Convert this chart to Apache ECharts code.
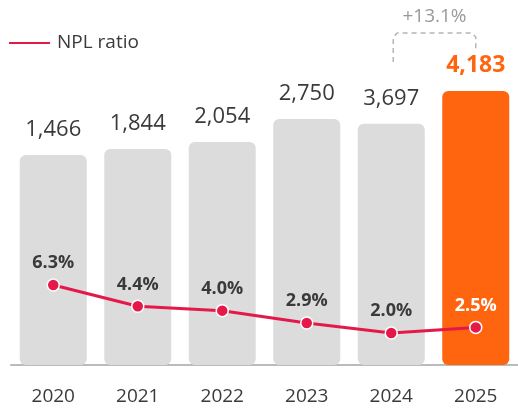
<!DOCTYPE html>
<html>
<head>
<meta charset="utf-8">
<script src="https://cdn.jsdelivr.net/npm/echarts@6/dist/echarts.min.js"></script>
<style>
  html, body { margin: 0; padding: 0; background: #fff; }
  #chart { width: 518px; height: 414px; }
</style>
</head>
<body>
<div id="chart"></div>
<script>
// data
var years = ['2020', '2021', '2022', '2023', '2024', '2025'];
var loanLabels = ['1,466', '1,844', '2,054', '2,750', '3,697', '4,183'];
// bars are not drawn to scale in the original, these are the visual heights (0-100)
var barLevels = [64.6, 66.5, 68.6, 75.7, 74.2, 84.3];
var nplRatio = [6.3, 4.4, 4.0, 2.9, 2.0, 2.5];
var growthText = '+13.1%';
var legendName = 'NPL ratio';

var FONT = 'Open Sans';
var grey = '#dcdcdc', orange = '#ff640f', red = '#e4194a', txt = '#3a3a3a';

var myChart = echarts.init(document.getElementById('chart'));

var barData = barLevels.map(function (v, i) {
    var last = i === barLevels.length - 1;
    return {
        value: v,
        itemStyle: { color: last ? orange : grey },
        label: last ? { color: orange, fontWeight: 'bold', fontSize: 23 } : {}
    };
});

var lineData = nplRatio.map(function (v, i) {
    var last = i === nplRatio.length - 1;
    return { value: v, label: last ? { color: '#fff' } : {} };
});

var option = {
    animation: false,
    textStyle: { fontFamily: FONT },
    grid: { left: 11, right: 0, top: 40, bottom: 49 },
    xAxis: {
        type: 'category',
        data: years,
        offset: 11,
        axisLine: { lineStyle: { color: '#bbbbbb', width: 2 } },
        axisTick: { length: 5, lineStyle: { color: '#888', width: 1 } },
        axisLabel: { fontFamily: FONT, fontSize: 19, color: txt, margin: 11 }
    },
    yAxis: [
        { type: 'value', min: 0, max: 100, show: false },
        { type: 'value', min: -0.87, max: 28.25, show: false }
    ],
    series: [
        {
            name: 'Loans',
            type: 'bar',
            barWidth: 67,
            data: barData,
            itemStyle: { borderRadius: 6 },
            label: {
                show: true,
                position: 'top',
                distance: 14,
                fontFamily: FONT,
                fontSize: 22,
                color: txt,
                formatter: function (p) { return loanLabels[p.dataIndex]; }
            }
        },
        {
            name: legendName,
            type: 'line',
            yAxisIndex: 1,
            data: lineData,
            color: red,
            lineStyle: { color: red, width: 3 },
            symbol: 'circle',
            symbolSize: 12,
            itemStyle: { color: red, borderColor: '#fff', borderWidth: 1.5 },
            label: {
                show: true,
                position: 'top',
                distance: 6,
                fontFamily: FONT,
                fontSize: 18,
                fontWeight: 'bold',
                color: txt,
                formatter: function (p) { return p.value.toFixed(1) + '%'; }
            },
            z: 5
        }
    ]
};

myChart.setOption(option);

// growth bracket between the last two bars
var n = years.length;
var pPrev = myChart.convertToPixel({ xAxisIndex: 0, yAxisIndex: 0 }, [n - 2, barLevels[n - 2]]);
var pLast = myChart.convertToPixel({ xAxisIndex: 0, yAxisIndex: 0 }, [n - 1, barLevels[n - 1]]);
var topY = pLast[1] - 58;
var xl = pPrev[0] + 2, xr = pLast[0];
myChart.setOption({
    graphic: [
        // legend (line key + name)
        {
            type: 'line',
            shape: { x1: 9, y1: 43, x2: 50, y2: 43 },
            style: { stroke: red, lineWidth: 2 }
        },
        {
            type: 'text',
            x: 57, y: 43,
            style: {
                text: legendName, fill: txt, font: '19px "' + FONT + '"',
                verticalAlign: 'middle'
            }
        },
        {
            type: 'polyline',
            shape: { points: [[xl, topY + 29], [xl, topY + 4], [xl + 4, topY], [xr - 4, topY], [xr, topY + 4], [xr, topY + 17]] },
            style: { fill: null, stroke: '#b5b5b5', lineWidth: 1.5, lineDash: [5, 4] }
        },
        {
            type: 'text',
            x: (xl + xr) / 2, y: topY - 16,
            style: {
                text: growthText, fill: '#999', font: '19px "' + FONT + '"',
                align: 'center', verticalAlign: 'middle'
            }
        }
    ]
});
</script>
</body>
</html>
